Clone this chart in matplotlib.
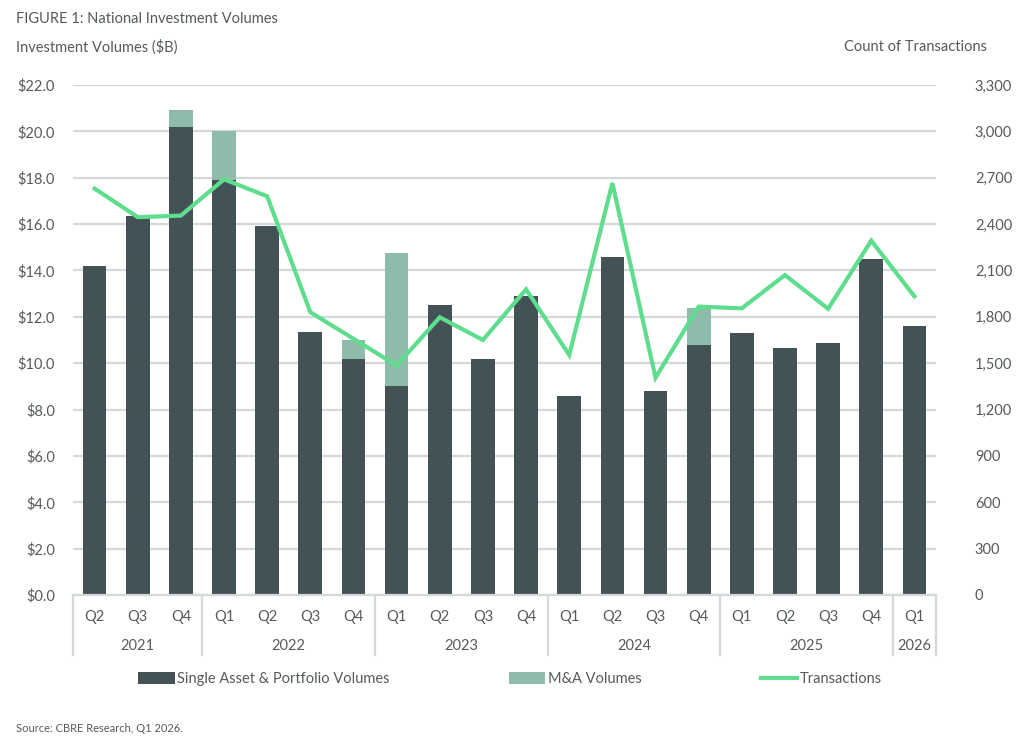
import matplotlib
matplotlib.use("Agg")
import matplotlib.pyplot as plt
import matplotlib.transforms as mtransforms
import numpy as np

quarters = ["Q2", "Q3", "Q4", "Q1", "Q2", "Q3", "Q4", "Q1", "Q2", "Q3", "Q4",
            "Q1", "Q2", "Q3", "Q4", "Q1", "Q2", "Q3", "Q4", "Q1"]
years = ["2021", "2022", "2023", "2024", "2025", "2026"]
year_counts = [3, 4, 4, 4, 4, 1]
single_asset = [14.2, 16.35, 20.2, 17.9, 15.9, 11.35, 10.2, 9.0, 12.5, 10.2, 12.9,
                8.6, 14.6, 8.8, 10.8, 11.3, 10.65, 10.85, 14.5, 11.6]
ma_volumes = [0.0, 0.0, 0.7, 2.1, 0.0, 0.0, 0.8, 5.75, 0.0, 0.0, 0.0,
              0.0, 0.0, 0.0, 1.6, 0.0, 0.0, 0.0, 0.0, 0.0]
transactions = [2630, 2445, 2455, 2690, 2580, 1830, 1658, 1485, 1797, 1650, 1978,
                1553, 2666, 1406, 1866, 1855, 2070, 1852, 2293, 1932]
left_ticks = [0, 2, 4, 6, 8, 10, 12, 14, 16, 18, 20, 22]
right_ticks = [0, 300, 600, 900, 1200, 1500, 1800, 2100, 2400, 2700, 3000, 3300]

plt.rcParams['font.family'] = ['Lato', 'DejaVu Sans']
TXT = "#555a5c"
DARK = "#435254"
MA = "#8fbbab"
LINE = "#5fdd8e"
GRID = "#d3d8da"
FS = 10.5

W, H = 1024, 753
fig = plt.figure(figsize=(W / 100, H / 100), dpi=100)
fig.patch.set_facecolor("white")
L, R, T, B = 73, 936, 85, 595
ax = fig.add_axes([L / W, 1 - B / H, (R - L) / W, (B - T) / H])
ax2 = ax.twinx()

x = np.arange(len(quarters))
ax.bar(x, single_asset, width=0.55, color=DARK, zorder=2, label="Single Asset & Portfolio Volumes")
ax.bar(x, ma_volumes, width=0.55, bottom=single_asset, color=MA, zorder=2, label="M&A Volumes")
ax2.plot(x, transactions, color=LINE, lw=3, zorder=3, label="Transactions", solid_joinstyle="miter")

ax.set_xlim(-0.5, len(quarters) - 0.5)
ax.set_ylim(0, 22)
ax2.set_ylim(0, 3300)
ax.set_yticks(left_ticks)
ax.set_yticklabels([f"${v:.1f}" for v in left_ticks])
ax2.set_yticks(right_ticks)
ax2.set_yticklabels([f"{v:,}" for v in right_ticks])
ax.yaxis.grid(True, color=GRID, lw=1.6, zorder=0)
ax.set_axisbelow(True)
for a in (ax, ax2):
    for s in a.spines.values():
        s.set_visible(False)
    a.tick_params(axis="y", length=0, labelsize=FS, labelcolor=TXT)
ax.tick_params(axis="y", pad=13)
ax2.tick_params(axis="y", pad=28)
ax.set_xticks([])
ax.spines["bottom"].set_visible(True)
ax.spines["bottom"].set_color(GRID)
ax.spines["bottom"].set_linewidth(1.6)

# category axis
trans = mtransforms.blended_transform_factory(ax.transData, ax.transAxes)
ph = B - T
for i, q in enumerate(quarters):
    ax.text(i, -22 / ph, q, transform=trans, ha="center", va="center", fontsize=FS, color=TXT)
start = 0
bounds = [-0.5]
for yr, n in zip(years, year_counts):
    ax.text(start + (n - 1) / 2, -51 / ph, yr, transform=trans, ha="center", va="center",
            fontsize=FS, color=TXT)
    start += n
    bounds.append(start - 0.5)
for b in bounds:
    ax.plot([b, b], [0, -60 / ph], transform=trans, color=GRID, lw=1.6, clip_on=False)

# titles
fig.text(16 / W, 1 - 19 / H, "FIGURE 1: National Investment Volumes", fontsize=FS, color=TXT,
         ha="left", va="center")
fig.text(16 / W, 1 - 47 / H, "Investment Volumes ($B)", fontsize=FS, color=TXT,
         ha="left", va="center")
fig.text(987 / W, 1 - 47 / H, "Count of Transactions", fontsize=FS, color=TXT,
         ha="right", va="center")
fig.text(16 / W, 1 - 728 / H, "Source: CBRE Research, Q1 2026.", fontsize=8, color=TXT,
         ha="left", va="center")

h1, l1 = ax.get_legend_handles_labels()
h2, l2 = ax2.get_legend_handles_labels()
leg = fig.legend(h1 + h2, l1 + l2, loc="center", bbox_to_anchor=(510 / W, 1 - 679 / H), ncol=3,
                 frameon=False, fontsize=FS, handlelength=2.5, handleheight=0.8,
                 handletextpad=0.15, columnspacing=8.2, labelcolor=TXT)

fig.savefig("out.png", dpi=100, facecolor="white")
